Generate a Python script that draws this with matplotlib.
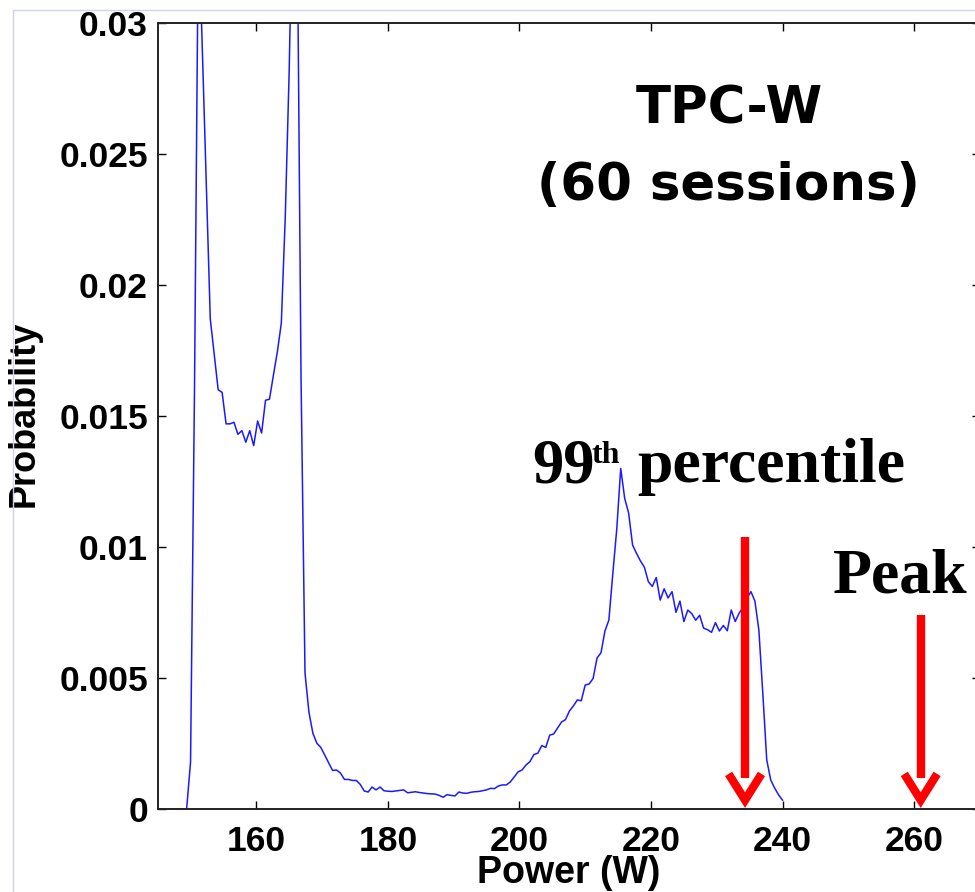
import numpy as np
import matplotlib
matplotlib.use('Agg')
import matplotlib.pyplot as plt
from matplotlib.lines import Line2D

# histogram of power draw, bins of 0.6 W starting at 147.6 W
bin_start = 147.6
bin_width = 0.6
prob = [
    0, 0, 0, 0, 0.0018, 0.016, 0.034, 0.0289, 0.0237, 0.0187,
    0.01735, 0.0160, 0.0159, 0.0147, 0.0147, 0.01476, 0.0143, 0.01444, 0.0140, 0.01444,
    0.01387, 0.01481, 0.01435, 0.0156, 0.01564, 0.01656, 0.01745, 0.01854, 0.0226, 0.0282,
    0.036, 0.0345, 0.0164, 0.0052, 0.0037, 0.0029, 0.00252, 0.00236, 0.00207, 0.00177,
    0.00148, 0.00150, 0.00138, 0.00114, 0.00114, 0.00110, 0.00110, 0.00095, 0.00070, 0.00066,
    0.00085, 0.00074, 0.00085, 0.00071, 0.00069, 0.00068, 0.00070, 0.00072, 0.00074, 0.00063,
    0.00065, 0.00067, 0.00064, 0.00062, 0.00060, 0.00059, 0.00058, 0.00053, 0.00046, 0.00056,
    0.00053, 0.00051, 0.00066, 0.00062, 0.00061, 0.00065, 0.00067, 0.00068, 0.00071, 0.00074,
    0.00080, 0.00079, 0.00089, 0.00093, 0.00093, 0.00104, 0.00123, 0.00143, 0.00150, 0.00169,
    0.00182, 0.00209, 0.00214, 0.00243, 0.00236, 0.00283, 0.00287, 0.00310, 0.00333, 0.00342,
    0.00375, 0.00394, 0.00417, 0.00414, 0.00474, 0.00478, 0.00499, 0.00577, 0.00597, 0.00680,
    0.00722, 0.0090, 0.0107, 0.0130, 0.01186, 0.0113, 0.01008, 0.00976, 0.00947, 0.00923,
    0.00868, 0.00850, 0.00884, 0.00798, 0.00841, 0.00806, 0.00830, 0.00751, 0.00794, 0.00716,
    0.00760, 0.00746, 0.00721, 0.00740, 0.00691, 0.00685, 0.00675, 0.00712, 0.00680, 0.00701,
    0.00681, 0.00760, 0.00716, 0.00748, 0.0077, 0.00806, 0.00830, 0.00794, 0.00684, 0.00442,
    0.00188, 0.00112, 0.00081, 0.00055, 0.00035,
]
power = bin_start + bin_width * np.arange(len(prob))

x_ticks = [160, 180, 200, 220, 240, 260]
y_ticks = [0, 0.005, 0.01, 0.015, 0.02, 0.025, 0.03]
y_ticklabels = ['0', '0.005', '0.01', '0.015', '0.02', '0.025', '0.03']

# arrows: percentile (99th) and peak power
arrow_x = [234.3, 261.0]
arrow_top = [0.0104, 0.0074]

sans = ['Liberation Sans', 'DejaVu Sans']
serif = ['Liberation Serif', 'DejaVu Serif']

fig = plt.figure(figsize=(9.75, 8.92), dpi=100)
ax = fig.add_axes([0.1617, 0.0927, 0.8433, 0.8819])

ax.plot(power, prob, color=(0.1, 0.1, 1.0), lw=1.1)

ax.set_xlim(145, 270)
ax.set_ylim(0, 0.03)
ax.set_xticks(x_ticks)
ax.set_yticks(y_ticks)
ax.set_yticklabels(y_ticklabels)
ax.tick_params(direction='in', length=5.5, width=1.0, top=True, right=True, labelsize=25.5)
ax.tick_params(axis='x', pad=11)
ax.tick_params(axis='y', pad=7)
for lab in ax.get_xticklabels() + ax.get_yticklabels():
    lab.set_fontfamily(sans)
    lab.set_fontweight('bold')
for sp in ax.spines.values():
    sp.set_linewidth(1.4)
    sp.set_color('#222222')

ax.set_xlabel('Power (W)', fontsize=27, fontweight='bold', family=sans)
ax.set_ylabel('Probability', fontsize=26, fontweight='bold', family=sans)
ax.xaxis.set_label_coords(0.5003, -0.058)
ax.yaxis.set_label_coords(-0.1407, 0.5025)

# title-like note
ax.text(0.695, 0.889, 'TPC-W', transform=ax.transAxes, ha='center', va='center',
        fontsize=37, fontweight='bold', family=['DejaVu Sans'])
ax.text(0.6936, 0.792, '(60 sessions)', transform=ax.transAxes, ha='center', va='center',
        fontsize=37, fontweight='bold', family=['DejaVu Sans'])

# 99th percentile / peak labels
ax.text(201.9, 0.01248, '99', fontsize=45, fontweight='bold', family=serif, va='baseline', ha='left')
ax.text(211.0, 0.01321, 'th', fontsize=23, fontweight='bold', family=serif, va='baseline', ha='left')
ax.text(217.85, 0.01248, 'percentile', fontsize=46, fontweight='bold', family=serif,
        va='baseline', ha='left')
ax.text(247.6, 0.00825, 'Peak', fontsize=46, fontweight='bold', family=serif, va='baseline', ha='left')

# red arrows with open V heads
tip_y = 0.00035
shaft_end = 0.0012
head_y = 0.00135
head_dx = 2.5
for ax_x, top in zip(arrow_x, arrow_top):
    ax.plot([ax_x, ax_x], [top, shaft_end], color='red', lw=6, solid_capstyle='butt', clip_on=False)
    ax.plot([ax_x - head_dx, ax_x, ax_x + head_dx], [head_y, tip_y, head_y], color='red', lw=6,
            solid_capstyle='butt', solid_joinstyle='miter', clip_on=False)

# faint slide border
border = (0.82, 0.82, 0.94)
fig.add_artist(Line2D([0.013, 1.0], [1 - 10 / 892, 1 - 10 / 892], transform=fig.transFigure,
                      color=border, lw=1.0))
fig.add_artist(Line2D([0.013, 0.013], [0, 1 - 10 / 892], transform=fig.transFigure,
                      color=border, lw=1.0))

fig.savefig('out.png', dpi=100)
